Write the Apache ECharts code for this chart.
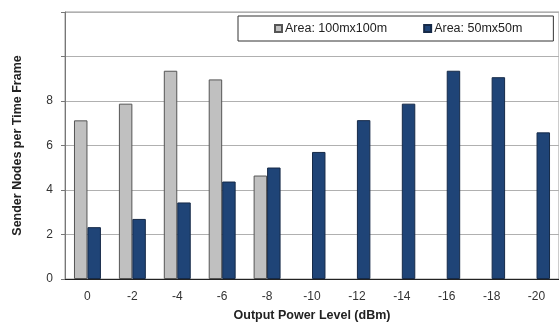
<!DOCTYPE html>
<html>
<head>
<meta charset="utf-8">
<script src="https://cdn.jsdelivr.net/npm/echarts@6/dist/echarts.min.js"></script>
<style>html,body{margin:0;padding:0;background:#fff;}#c{width:559px;height:327px;}</style>
</head>
<body>
<div id="c"></div>
<script>
var categories = ['0', '-2', '-4', '-6', '-8', '-10', '-12', '-14', '-16', '-18', '-20'];
var area100 = [7.13, 7.88, 9.36, 8.97, 4.65, null, null, null, null, null, null];
var area50 = [2.33, 2.70, 3.44, 4.38, 5.01, 5.71, 7.14, 7.88, 9.36, 9.07, 6.59];
var yTicks = [0, 2, 4, 6, 8];
var seriesNames = ['Area: 100mx100m', 'Area: 50mx50m'];

var chart = echarts.init(document.getElementById('c'));
chart.setOption({
  animation: false,
  backgroundColor: '#fff',
  textStyle: { fontFamily: 'Liberation Sans, Arial, sans-serif' },
  legend: {
    left: 238, top: 16,
    padding: [6, 31, 6, 36],
    backgroundColor: '#fff',
    borderColor: '#333', borderWidth: 1,
    itemWidth: 7, itemHeight: 7, itemGap: 36,
    icon: 'rect',
    textStyle: { fontSize: 12.5, color: '#222', padding: [0, 0, 0, -2], fontFamily: 'Liberation Sans, Arial, sans-serif' },
    data: seriesNames
  },
  grid: { left: 65, top: 12, right: -6, bottom: 48, show: true, borderColor: '#999', borderWidth: 1 },
  xAxis: {
    type: 'category',
    data: categories,
    axisLine: { lineStyle: { color: '#222', width: 1 } },
    axisTick: { show: false },
    axisLabel: { fontSize: 12, color: '#333', margin: 12 },
    name: 'Output Power Level (dBm)',
    nameLocation: 'middle',
    nameGap: 30,
    nameTextStyle: { fontSize: 12.5, fontWeight: 'bold', color: '#222' }
  },
  yAxis: {
    type: 'value',
    min: 0, max: 12, interval: 2,
    axisLine: { show: true, lineStyle: { color: '#777', width: 1 } },
    axisTick: { show: true, length: 4, lineStyle: { color: '#777' } },
    splitLine: { lineStyle: { color: '#b0b0b0', width: 1 } },
    axisLabel: {
      fontSize: 12, color: '#333', margin: 12,
      formatter: function (v) { return yTicks.indexOf(v) >= 0 ? String(v) : ''; }
    },
    name: 'Sender Nodes per Time Frame',
    nameLocation: 'middle',
    nameGap: 41,
    nameTextStyle: { fontSize: 12.5, fontWeight: 'bold', color: '#222' }
  },
  series: [
    {
      name: seriesNames[0], type: 'bar', data: area100,
      barGap: '0%', barCategoryGap: '40%',
      itemStyle: { color: '#c0c0c0', borderColor: '#555', borderWidth: 1 }
    },
    {
      name: seriesNames[1], type: 'bar', data: area50,
      barGap: '0%', barCategoryGap: '40%',
      itemStyle: { color: '#1f4477', borderColor: '#162a48', borderWidth: 1 }
    }
  ]
});
</script>
</body>
</html>
